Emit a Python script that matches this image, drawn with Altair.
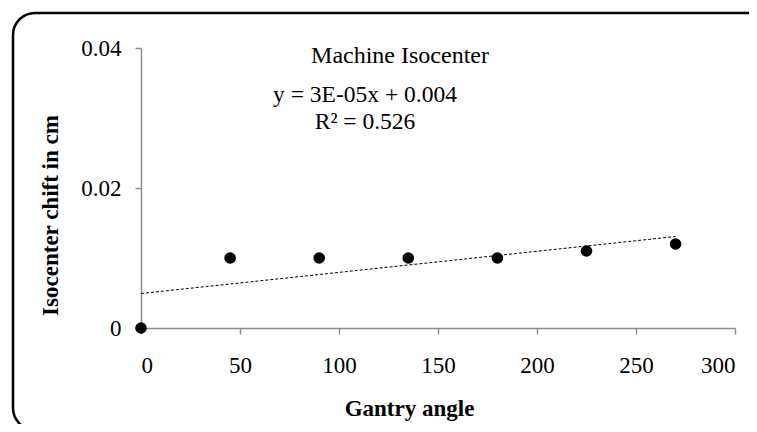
import altair as alt
import pandas as pd

angles = [0, 45, 90, 135, 180, 225, 270]
shifts = [0.0, 0.010, 0.010, 0.010, 0.010, 0.011, 0.012]

title_text = "Machine Isocenter"
eq_text = "y = 3E-05x + 0.004"
r2_text = "R² = 0.526"

df = pd.DataFrame({"angle": angles, "shift": shifts})
one = pd.DataFrame({"k": [0]})

FONT = "'Liberation Serif', 'Times New Roman', serif"

xenc = alt.X("angle:Q", scale=alt.Scale(domain=[0, 300], nice=False),
             axis=alt.Axis(values=[0, 50, 100, 150, 200, 250, 300], title="Gantry angle",
                           grid=False, labelPadding=20, titleX=268, titleY=87,
                           titleAlign="center", titleBaseline="alphabetic"))
yenc = alt.Y("shift:Q", scale=alt.Scale(domain=[0, 0.04], nice=False),
             axis=alt.Axis(values=[0, 0.02, 0.04], format=".2~f", title="Isocenter chift in cm",
                           grid=False, labelPadding=14, titleX=-84, titleY=167,
                           titleAlign="center", titleBaseline="alphabetic", titleAngle=-90))

points = alt.Chart(df).mark_circle(size=135, color="black", opacity=1, clip=False).encode(
    x=xenc, y=yenc)

trend = alt.Chart(df).transform_regression(
    "angle", "shift", extent=[0, 270]
).mark_line(color="black", strokeWidth=1, strokeDash=[3, 2]).encode(
    x="angle:Q", y="shift:Q")

border = alt.Chart(one).mark_rect(filled=False, stroke="black", strokeWidth=2.5,
                                  cornerRadius=22).encode(
    x=alt.value(-128), x2=alt.value(640), y=alt.value(-35), y2=alt.value(382))

t1 = alt.Chart(one).mark_text(font=FONT, fontSize=24, color="black", baseline="alphabetic").encode(
    x=alt.value(259), y=alt.value(15), text=alt.value(title_text))
t2 = alt.Chart(one).mark_text(font=FONT, fontSize=23.5, color="black", baseline="alphabetic").encode(
    x=alt.value(224), y=alt.value(54), text=alt.value(eq_text))
t3 = alt.Chart(one).mark_text(font=FONT, fontSize=23.5, color="black", baseline="alphabetic").encode(
    x=alt.value(224), y=alt.value(81), text=alt.value(r2_text))

chart = alt.layer(border, trend, points, t1, t2, t3).properties(
    width=594, height=280,
    autosize=alt.AutoSizeParams(type="none"),
    padding={"left": 133, "top": 40, "right": 14, "bottom": 96},
).configure_view(stroke=None).configure_axis(
    domainColor="#8c8c8c", tickColor="#8c8c8c", domainWidth=1.5, tickWidth=1.5, tickSize=6,
    labelFont=FONT, labelFontSize=23, labelColor="black",
    titleFont=FONT, titleFontSize=23, titleFontWeight="bold", titleColor="black",
)

chart.save("out.html", embed_options={"renderer": "svg", "actions": False})
